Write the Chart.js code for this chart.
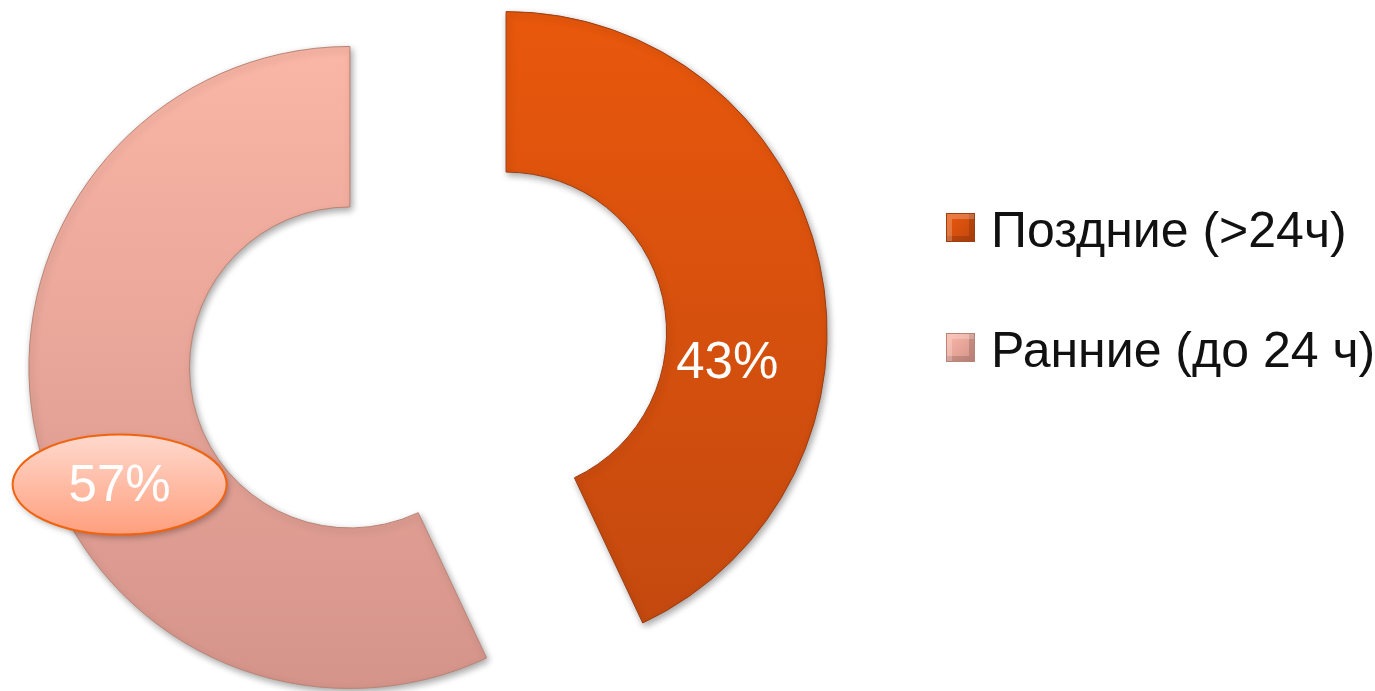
<!DOCTYPE html>
<html lang="ru">
<head>
<meta charset="utf-8">
<title>Поздние и ранние</title>
<script src="https://cdn.jsdelivr.net/npm/chart.js@4.4.1/dist/chart.umd.min.js"></script>
<style>
  html, body { margin: 0; padding: 0; background: #ffffff; }
  #wrap { position: relative; width: 1375px; height: 691px; overflow: hidden; }
  #chart { position: absolute; left: 0; top: 0; }
  #legend { position: absolute; left: 946px; top: 200px; margin: 0; padding: 0; list-style: none;
            font-family: "Liberation Sans", Arial, sans-serif; font-size: 50px; color: #111111; }
  #legend li { display: flex; align-items: center; height: 60px; margin-bottom: 60px; white-space: nowrap; }
  #legend .sw { display: inline-block; width: 29px; height: 29px; margin-right: 16px; margin-top: -5px; box-sizing: border-box; }
</style>
</head>
<body>
<div id="wrap">
  <canvas id="chart" width="1375" height="691"></canvas>
  <ul id="legend"></ul>
</div>
<script>
// Доля поздних и ранних случаев, %
const categories = ['Поздние (>24ч)', 'Ранние (до 24 ч)'];
const shares = [43, 57];
const valueLabels = ['43%', '57%'];

// Цвета секторов: верх / низ градиента, кромка
const topColors = ['#ea580c', '#fbb7a7'];
const bottomColors = ['#c1480f', '#d4938a'];
const edgeColors = ['#9c3d12', '#b98474'];

// Насколько секторы раздвинуты от центра, px
const explode = 80;

// Где внутри сектора ставить подпись: доля угла сектора и доля толщины кольца
const labelAngleFrac = [0.63, 0.43];
const labelRadiusFrac = [0.39, 0.61];

function sliceFill(ctx) {
  const chart = ctx.chart;
  const area = chart.chartArea;
  const i = ctx.dataIndex;
  if (!area) return topColors[i];
  const g = chart.ctx.createLinearGradient(0, area.top, 0, area.bottom);
  g.addColorStop(0, topColors[i]);
  g.addColorStop(1, bottomColors[i]);
  return g;
}

function sliceShift(arc) {
  const mid = (arc.startAngle + arc.endAngle) / 2;
  return { dx: Math.cos(mid) * explode, dy: Math.sin(mid) * explode };
}

// Раздвинутые секторы с мягкой тенью
const explodePlugin = {
  id: 'explodedSlices',
  beforeDatasetDraw(chart, args) {
    const c = chart.ctx;
    args.meta.data.forEach((arc) => {
      const s = sliceShift(arc);
      c.save();
      c.shadowColor = 'rgba(0,0,0,0.35)';
      c.shadowBlur = 7;
      c.shadowOffsetX = 2;
      c.shadowOffsetY = 3;
      c.translate(s.dx, s.dy);
      arc.draw(c);
      c.restore();
    });
    return false;
  }
};

// Подписи значений внутри секторов (у второй — овальная выноска)
const valueLabelPlugin = {
  id: 'valueLabels',
  afterDatasetsDraw(chart) {
    const c = chart.ctx;
    const meta = chart.getDatasetMeta(0);
    meta.data.forEach((arc, i) => {
      const s = sliceShift(arc);
      const a = arc.startAngle + labelAngleFrac[i] * (arc.endAngle - arc.startAngle);
      const r = arc.innerRadius + labelRadiusFrac[i] * (arc.outerRadius - arc.innerRadius);
      const x = arc.x + s.dx + Math.cos(a) * r;
      const y = arc.y + s.dy + Math.sin(a) * r;
      c.save();
      if (i === 1) {
        c.shadowColor = 'rgba(0,0,0,0.3)';
        c.shadowBlur = 6;
        c.shadowOffsetX = 2;
        c.shadowOffsetY = 3;
        const g = c.createLinearGradient(0, y - 50, 0, y + 50);
        g.addColorStop(0, '#ffd9cd');
        g.addColorStop(1, '#ff9f7e');
        c.beginPath();
        c.ellipse(x, y, 107, 50, 0, 0, Math.PI * 2);
        c.fillStyle = g;
        c.fill();
        c.shadowColor = 'transparent';
        c.lineWidth = 2;
        c.strokeStyle = '#f0640f';
        c.stroke();
      }
      c.fillStyle = '#ffffff';
      c.font = '51px "Liberation Sans", Arial, sans-serif';
      c.textAlign = 'center';
      c.textBaseline = 'middle';
      c.fillText(valueLabels[i], x, y + 2);
      c.restore();
    });
  }
};

new Chart(document.getElementById('chart'), {
  type: 'doughnut',
  data: {
    labels: categories,
    datasets: [{
      data: shares,
      backgroundColor: sliceFill,
      borderColor: edgeColors,
      borderWidth: 1,
      offset: 0,
      hoverOffset: 0
    }]
  },
  options: {
    responsive: false,
    animation: false,
    events: [],
    cutout: '50%',
    radius: 321,
    layout: { padding: { left: 0, right: 519, top: 9, bottom: 0 } },
    plugins: {
      legend: { display: false },
      tooltip: { enabled: false }
    }
  },
  plugins: [explodePlugin, valueLabelPlugin]
});

// Легенда справа
const legend = document.getElementById('legend');
categories.forEach((name, i) => {
  const li = document.createElement('li');
  const sw = document.createElement('span');
  sw.className = 'sw';
  sw.style.background = 'linear-gradient(135deg, ' + topColors[i] + ' 0%, ' + bottomColors[i] + ' 100%)';
  sw.style.border = '1px solid ' + edgeColors[i];
  sw.style.boxShadow = 'inset 5px 5px 0 rgba(255,255,255,0.22), inset -5px -5px 0 rgba(0,0,0,0.14)';
  const t = document.createElement('span');
  t.textContent = name;
  li.appendChild(sw);
  li.appendChild(t);
  legend.appendChild(li);
});
</script>
</body>
</html>
